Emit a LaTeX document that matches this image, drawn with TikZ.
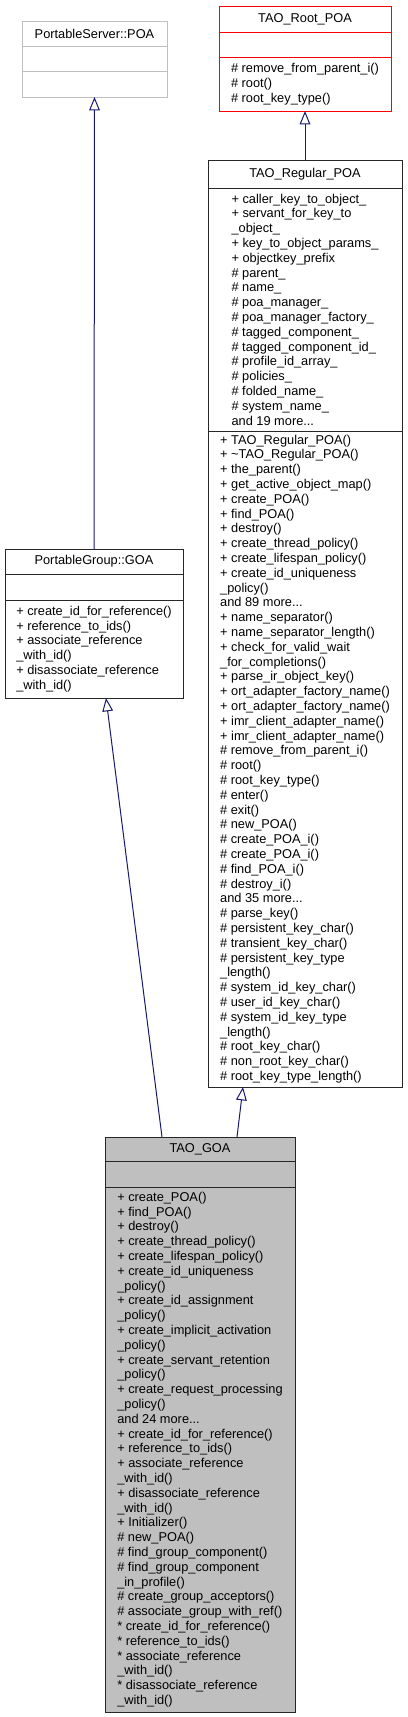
\documentclass[tikz,border=0pt]{standalone}
\usepackage{fontspec}
\setmainfont{Liberation Sans}
\usetikzlibrary{positioning,% section boxes stacked under the title boxes
arrows.meta}
\definecolor{edgeblue}{HTML}{191970}
\definecolor{boxgray}{HTML}{BFBFBF}
\tikzset{every node/.style={font=\fontsize{9.6}{11.1}\selectfont},
  cls/.style={draw=black!85, line width=0.75pt, inner sep=0pt, outer sep=0pt, align=left, fill=white},
  inherit/.style={-{Triangle[open,length=10pt,width=8pt]}, edgeblue, line width=0.75pt}}

\begin{document}
\begin{tikzpicture}[x=0.75pt,y=-0.75pt]
      \useasboundingbox (0,0) rectangle (407,1717);
      % PortableServer::POA
      \node[cls, draw=boxgray, minimum width=108.75pt, minimum height=18.75pt] (psPOA) at (94.5,33.5) {PortableServer::POA};
      \node[cls, draw=boxgray, minimum width=108.75pt, minimum height=18.75pt, below=0pt of psPOA] (psPOAattr) {};
      \node[cls, draw=boxgray, minimum width=108.75pt, minimum height=19.5pt, below=0pt of psPOAattr] (psPOAmeth) {};
      % TAO_Root_POA
      \node[cls, draw=red, minimum width=129pt, minimum height=19.5pt] (rootPOA) at (305,19) {TAO\_Root\_POA};
      \node[cls, draw=red, minimum width=129pt, minimum height=18.75pt, below=0pt of rootPOA] (rootPOAattr) {};
      \node[cls, draw=red, minimum width=129pt, minimum height=40.5pt, below=0pt of rootPOAattr] (rootPOAmeth)
      {\# remove\_from\_parent\_i()\\ \# root()\\ \# root\_key\_type()};
      % TAO_Regular_POA
      \node[cls, minimum width=145.5pt, minimum height=21pt] (regPOA) at (305,174) {TAO\_Regular\_POA};
      \node[cls, minimum width=145.5pt, minimum height=182.25pt, below=0pt of regPOA] (regPOAattr)
      {+ caller\_key\_to\_object\_\\ + servant\_for\_key\_to\\ \_object\_\\ + key\_to\_object\_params\_\\
       + objectkey\_prefix\\ \# parent\_\\ \# name\_\\ \# poa\_manager\_\\ \# poa\_manager\_factory\_\\
       \# tagged\_component\_\\ \# tagged\_component\_id\_\\ \# profile\_id\_array\_\\ \# policies\_\\
       \# folded\_name\_\\ \# system\_name\_\\ and 19 more...};
      \node[cls, minimum width=145.5pt, minimum height=492pt, below=0pt of regPOAattr] (regPOAmeth)
      {+ TAO\_Regular\_POA()\\ + \textasciitilde TAO\_Regular\_POA()\\ + the\_parent()\\
       + get\_active\_object\_map()\\ + create\_POA()\\ + find\_POA()\\ + destroy()\\
       + create\_thread\_policy()\\ + create\_lifespan\_policy()\\ + create\_id\_uniqueness\\
       \_policy()\\ and 89 more...\\ + name\_separator()\\ + name\_separator\_length()\\
       + check\_for\_valid\_wait\\ \_for\_completions()\\ + parse\_ir\_object\_key()\\
       + ort\_adapter\_factory\_name()\\ + ort\_adapter\_factory\_name()\\
       + imr\_client\_adapter\_name()\\ + imr\_client\_adapter\_name()\\
       \# remove\_from\_parent\_i()\\ \# root()\\ \# root\_key\_type()\\ \# enter()\\ \# exit()\\
       \# new\_POA()\\ \# create\_POA\_i()\\ \# create\_POA\_i()\\ \# find\_POA\_i()\\ \# destroy\_i()\\
       and 35 more...\\ \# parse\_key()\\ \# persistent\_key\_char()\\ \# transient\_key\_char()\\
       \# persistent\_key\_type\\ \_length()\\ \# system\_id\_key\_char()\\ \# user\_id\_key\_char()\\
       \# system\_id\_key\_type\\ \_length()\\ \# root\_key\_char()\\ \# non\_root\_key\_char()\\
       \# root\_key\_type\_length()};
      % PortableGroup::GOA
      \node[cls, minimum width=133.5pt, minimum height=18.75pt] (goa) at (94,561.5) {PortableGroup::GOA};
      \node[cls, minimum width=133.5pt, minimum height=19.5pt, below=0pt of goa] (goaAttr) {};
      \node[cls, minimum width=133.5pt, minimum height=73.5pt, below=0pt of goaAttr] (goaMeth)
      {+ create\_id\_for\_reference()\\ + reference\_to\_ids()\\ + associate\_reference\\ \_with\_id()\\
       + disassociate\_reference\\ \_with\_id()};
      % TAO_GOA
      \node[cls, fill=boxgray, minimum width=142.5pt, minimum height=18pt] (taoGOA) at (200,1149) {TAO\_GOA};
      \node[cls, fill=boxgray, minimum width=142.5pt, minimum height=19.5pt, below=0pt of taoGOA] (taoGOAattr) {};
      \node[cls, fill=boxgray, minimum width=142.5pt, minimum height=393.75pt, below=0pt of taoGOAattr] (taoGOAmeth)
      {+ create\_POA()\\ + find\_POA()\\ + destroy()\\ + create\_thread\_policy()\\
       + create\_lifespan\_policy()\\ + create\_id\_uniqueness\\ \_policy()\\
       + create\_id\_assignment\\ \_policy()\\ + create\_implicit\_activation\\ \_policy()\\
       + create\_servant\_retention\\ \_policy()\\ + create\_request\_processing\\ \_policy()\\
       and 24 more...\\ + create\_id\_for\_reference()\\ + reference\_to\_ids()\\
       + associate\_reference\\ \_with\_id()\\ + disassociate\_reference\\ \_with\_id()\\
       + Initializer()\\ \# new\_POA()\\ \# find\_group\_component()\\ \# find\_group\_component\\
       \_in\_profile()\\ \# create\_group\_acceptors()\\ \# associate\_group\_with\_ref()\\
       * create\_id\_for\_reference()\\ * reference\_to\_ids()\\ * associate\_reference\\
       \_with\_id()\\ * disassociate\_reference\\ \_with\_id()};
      % inheritance
      \draw[inherit] (goa.north) -- (psPOAmeth.south);
      \draw[inherit] (regPOA.north) -- (rootPOAmeth.south);
      \draw[inherit] ([xshift=-28.5pt]taoGOA.north) -- ([xshift=9pt]goaMeth.south);
      \draw[inherit] ([xshift=27.75pt]taoGOA.north) -- ([xshift=-46.5pt]regPOAmeth.south);
    \end{tikzpicture}
\end{document}
